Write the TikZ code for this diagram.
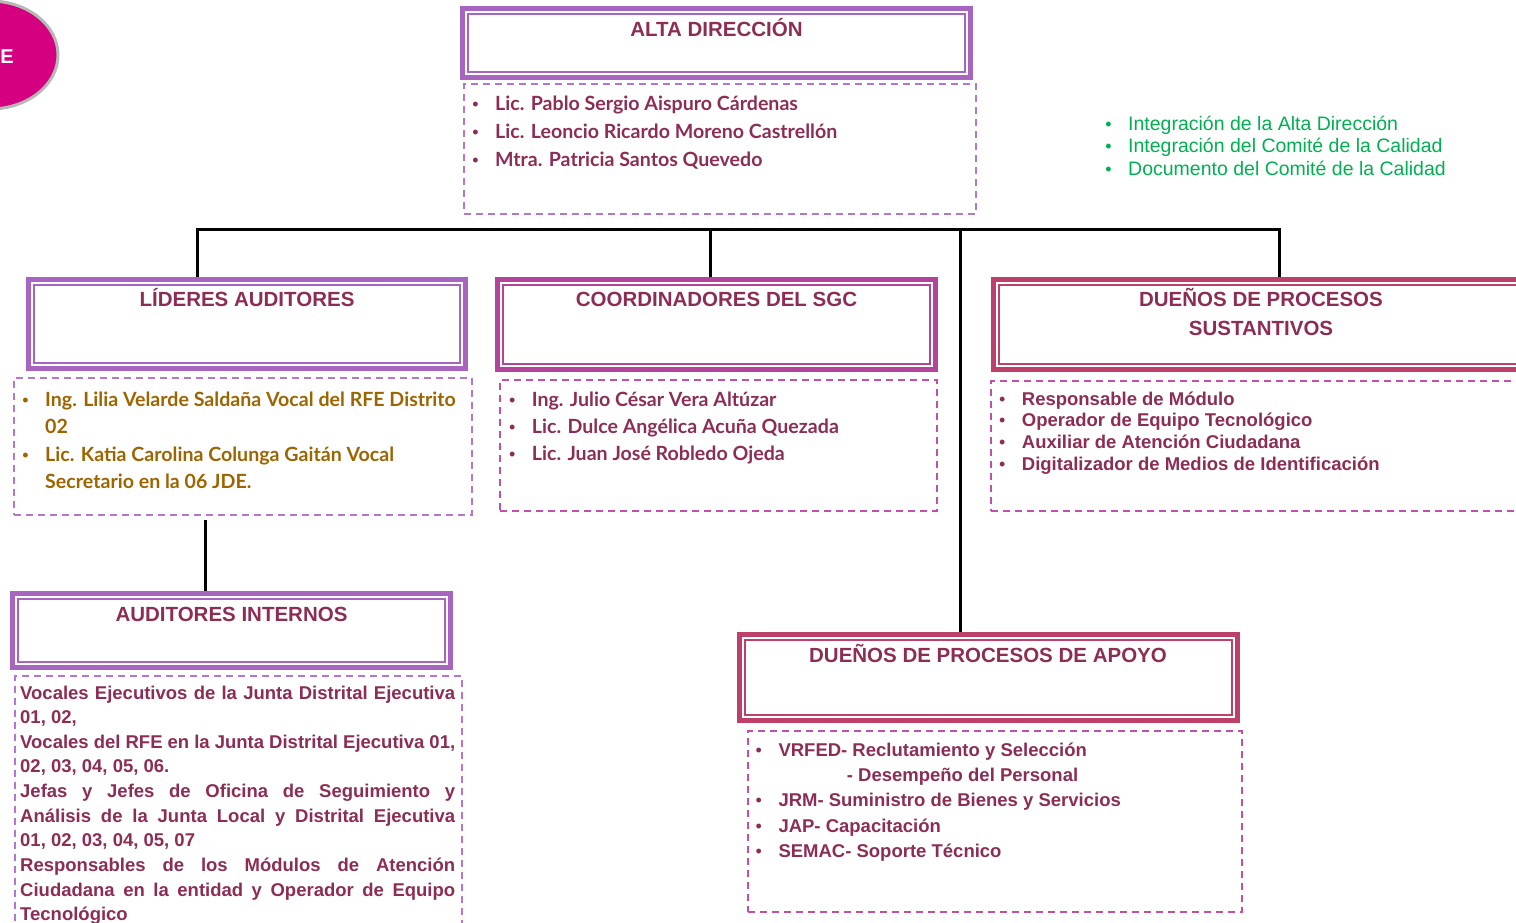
\documentclass[tikz,border=0pt]{standalone}
\usepackage{fontspec}
\setmainfont{Liberation Sans}
\newfontfamily\lato{Lato}
\usetikzlibrary{shapes.geometric}
\definecolor{lilac}{HTML}{A865BF}
\definecolor{magen}{HTML}{B3449C}
\definecolor{rasp}{HTML}{BC4069}
\definecolor{dlilac}{HTML}{B676CC}
\definecolor{dmagen}{HTML}{C050AC}
\definecolor{maroon}{HTML}{8C2D55}
\definecolor{gold}{HTML}{9C6500}
\definecolor{okgreen}{HTML}{00B050}
\definecolor{pinkfill}{HTML}{D5007F}
\definecolor{logogray}{HTML}{B8B8B8}
\newcommand\bul{\leavevmode\llap{{\normalfont\fontsize{18}{18}\selectfont\textbullet}\hspace{16.5pt}}}
\begin{document}
\begin{tikzpicture}[x=1pt,y=-1pt,
  tbox/.style={draw=#1, line width=5pt, inner sep=0pt, rectangle,
    path picture={\draw[#1,line width=1.5pt]
      ([shift={(5.5,5.5)}]path picture bounding box.north west) rectangle
      ([shift={(-5.5,-5.5)}]path picture bounding box.south east);}},
  dbox/.style={draw=#1, dash pattern=on 7pt off 5pt, line width=1.8pt, inner sep=0pt, rectangle},
  ttl/.style={anchor=base, inner sep=0pt, text=maroon, font=\bfseries\fontsize{20.5}{24}\selectfont},
  lst/.style={anchor=base west, inner sep=0pt},
  conn/.style={draw=black, line width=3pt}]
\clip (0,0) rectangle (1516,923);

% logo
\node[ellipse, fill=pinkfill, draw=logogray, line width=3pt, minimum width=136, minimum height=108, inner sep=0pt] (logo) at (-10,55) {};
\node[anchor=base east, inner sep=0pt, text=white, font=\bfseries\fontsize{20}{24}\selectfont] (logotxt) at (14,64) {E};

% title boxes
\node[tbox=lilac, minimum width=508, minimum height=69] (alta) at (716.5,43) {};
\node[tbox=lilac, minimum width=437, minimum height=89] (lid) at (247,324) {};
\node[tbox=magen, minimum width=438, minimum height=90] (coord) at (716.5,324.5) {};
\node[tbox=rasp, minimum width=544, minimum height=90] (sust) at (1265.5,324.5) {};
\node[tbox=lilac, minimum width=438, minimum height=74] (aud) at (231.5,630.5) {};
\node[tbox=rasp, minimum width=498, minimum height=86] (apoyo) at (988.5,677.5) {};

% dashed boxes
\node[dbox=dlilac, minimum width=512, minimum height=130] (altad) at (720,149) {};
\node[dbox=dlilac, minimum width=458, minimum height=137] (lidd) at (243,446.5) {};
\node[dbox=dmagen, minimum width=437, minimum height=131] (coordd) at (718.5,445.5) {};
\node[dbox=dmagen, minimum width=549, minimum height=130] (sustd) at (1265.5,446) {};
\node[dbox=dlilac, minimum width=447, minimum height=284] (audd) at (238.5,818) {};
\node[dbox=dmagen, minimum width=494, minimum height=181] (apoyod) at (995,821.5) {};

% titles
\node[ttl] (altat) at (716.5,37) {ALTA DIRECCIÓN};
\node[ttl] (lidt) at (247,306) {LÍDERES AUDITORES};
\node[ttl] (coordt) at (716.5,306) {COORDINADORES DEL SGC};
\node[ttl] (sustt1) at (1261,306) {DUEÑOS DE PROCESOS};
\node[ttl] (sustt2) at (1261,335) {SUSTANTIVOS};
\node[ttl] (audt) at (231.5,621.7) {AUDITORES INTERNOS};
\node[ttl] (apoyot) at (988,662.7) {DUEÑOS DE PROCESOS DE APOYO};

% lists
\node[lst, text=maroon] (altal) at (495,111) {\parbox[t]{470pt}{\lato\bfseries\fontsize{19.6}{27.8}\selectfont
\bul Lic. Pablo Sergio Aispuro Cárdenas\\
\bul Lic. Leoncio Ricardo Moreno Castrellón\\
\bul Mtra. Patricia Santos Quevedo}};

\node[lst, text=okgreen] (green) at (1128,130.5) {\parbox[t]{380pt}{\fontsize{19.5}{22.5}\selectfont
\bul Integración de la Alta Dirección\\
\bul Integración del Comité de la Calidad\\
\bul Documento del Comité de la Calidad}};

\node[lst, text=gold] (lidl) at (45,406.5) {\parbox[t]{600pt}{\lato\bfseries\fontsize{19.6}{27.4}\selectfont
\bul Ing. Lilia Velarde Saldaña Vocal del RFE Distrito\\
02\\
\bul Lic. Katia Carolina Colunga Gaitán Vocal\\
Secretario en la 06 JDE.}};

\node[lst, text=maroon] (coordl) at (531.7,406.5) {\parbox[t]{420pt}{\lato\bfseries\fontsize{19.6}{27.2}\selectfont
\bul Ing. Julio César Vera Altúzar\\
\bul Lic. Dulce Angélica Acuña Quezada\\
\bul Lic. Juan José Robledo Ojeda}};

\node[lst, text=maroon] (sustl) at (1021.7,405) {\parbox[t]{500pt}{\bfseries\fontsize{18.5}{21.7}\selectfont
\bul Responsable de Módulo\\
\bul Operador de Equipo Tecnológico\\
\bul Auxiliar de Atención Ciudadana\\
\bul Digitalizador de Medios de Identificación}};

\node[lst, text=maroon] (apoyol) at (778.3,756.5) {\parbox[t]{460pt}{\bfseries\fontsize{18.5}{25.2}\selectfont
\bul VRFED- Reclutamiento y Selección\\
\hspace*{68.4pt}- Desempeño del Personal\\
\bul JRM- Suministro de Bienes y Servicios\\
\bul JAP- Capacitación\\
\bul SEMAC- Soporte Técnico}};

\node[lst, text=maroon] (audl) at (20,699) {\parbox[t]{435pt}{\bfseries\fontsize{18.5}{24.63}\selectfont
Vocales Ejecutivos de la Junta Distrital Ejecutiva\linebreak
01, 02,\\
Vocales del RFE en la Junta Distrital Ejecutiva 01,\linebreak
02, 03, 04, 05, 06.\\
Jefas y Jefes de Oficina de Seguimiento y\linebreak
Análisis de la Junta Local y Distrital Ejecutiva\linebreak
01, 02, 03, 04, 05, 07\\
Responsables de los Módulos de Atención\linebreak
Ciudadana en la entidad y Operador de Equipo\linebreak
Tecnológico}};

% connectors
\coordinate (busL) at (197,229);
\coordinate (busR) at (1279,229);
\coordinate (busC) at (710,229);
\coordinate (busA) at (960,229);
\coordinate (la) at (205,520);
\draw[conn] (lid.north -| busL) -- (busL) -- (busR) -- (sust.north -| busR);
\draw[conn] (busC) -- (coord.north -| busC);
\draw[conn] (busA) -- (apoyo.north -| busA);
\draw[conn] (la) -- (aud.north -| la);
\end{tikzpicture}
\end{document}
